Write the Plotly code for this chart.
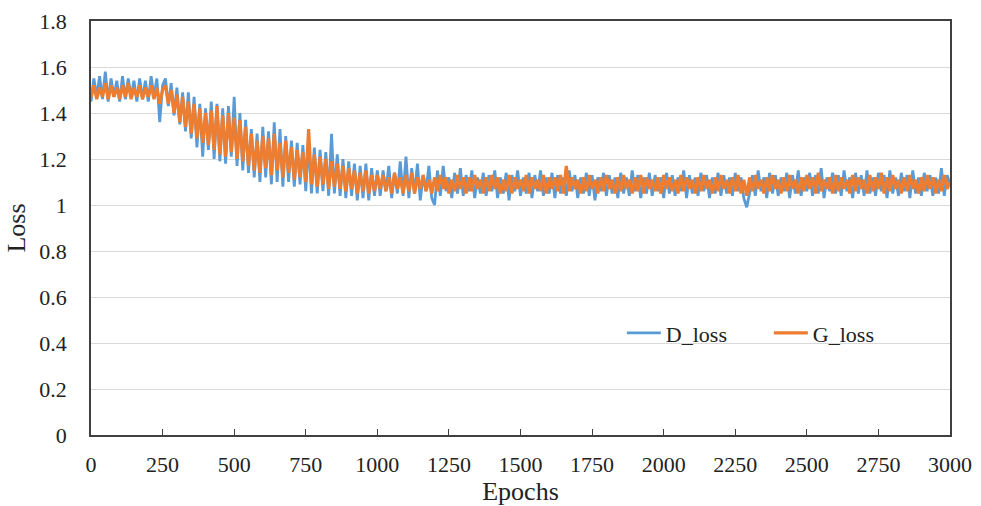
import plotly.graph_objects as go

# Epochs sampled every 10 epochs (0 .. 3000)
epochs = list(range(0, 3001, 10))

d_loss = [
    # 0-250
    1.45,1.55,1.47,1.56,1.46,1.58,1.45,1.55,1.47,1.54,1.45,1.56,1.46,1.55,1.47,1.54,1.45,1.55,1.46,1.54,1.45,1.56,1.47,1.55,1.36,1.52,
    # 260-400
    1.55,1.43,1.53,1.39,1.51,1.35,1.49,1.32,1.49,1.29,1.47,1.25,1.44,1.21,1.42,
    # 410-550
    1.24,1.45,1.20,1.44,1.19,1.42,1.18,1.43,1.21,1.47,1.17,1.40,1.15,1.37,1.14,
    # 560-700
    1.33,1.12,1.31,1.10,1.34,1.12,1.32,1.09,1.36,1.10,1.33,1.08,1.30,1.10,1.28,
    # 710-850
    1.08,1.27,1.09,1.26,1.06,1.27,1.05,1.25,1.05,1.24,1.06,1.23,1.04,1.31,1.05,
    # 860-1000
    1.22,1.04,1.20,1.03,1.19,1.04,1.18,1.02,1.17,1.03,1.18,1.02,1.16,1.04,1.15,
    # 1010-3000
    1.04,1.15,1.06,1.17,1.03,1.14,1.05,1.19,1.04,1.21,
    1.03,1.16,1.05,1.18,1.02,1.13,1.06,1.17,1.03,1.00,
    1.15,1.04,1.17,1.06,1.12,1.03,1.14,1.05,1.16,1.04,
    1.13,1.06,1.15,1.03,1.12,1.05,1.14,1.04,1.13,1.06,
    1.15,1.03,1.12,1.05,1.14,1.02,1.13,1.06,1.15,1.04,
    1.12,1.05,1.14,1.03,1.13,1.06,1.15,1.04,1.12,1.05,
    1.14,1.03,1.13,1.05,1.12,1.04,1.15,1.06,1.13,1.03,
    1.12,1.05,1.14,1.04,1.13,1.02,1.12,1.06,1.14,1.04,
    1.13,1.05,1.12,1.03,1.14,1.05,1.12,1.04,1.15,1.06,
    1.13,1.03,1.12,1.05,1.14,1.04,1.13,1.06,1.12,1.03,
    1.14,1.05,1.13,1.04,1.12,1.06,1.15,1.03,1.13,1.05,
    1.12,1.04,1.14,1.06,1.13,1.03,1.12,1.05,1.14,1.04,
    1.13,1.05,1.12,1.04,1.14,1.06,1.12,1.03,0.99,1.05,
    1.13,1.04,1.15,1.06,1.12,1.03,1.14,1.05,1.13,1.04,
    1.12,1.06,1.14,1.03,1.13,1.05,1.15,1.04,1.12,1.06,
    1.14,1.04,1.13,1.05,1.16,1.03,1.12,1.06,1.14,1.05,
    1.13,1.04,1.15,1.06,1.12,1.03,1.14,1.05,1.13,1.04,
    1.15,1.05,1.12,1.04,1.14,1.06,1.13,1.03,1.15,1.05,
    1.12,1.04,1.14,1.06,1.13,1.03,1.15,1.05,1.12,1.04,
    1.14,1.06,1.13,1.04,1.12,1.05,1.16,1.04,1.13,1.09,
]

g_loss = [
    # 0-250
    1.47,1.52,1.46,1.51,1.47,1.53,1.46,1.52,1.47,1.51,1.46,1.52,1.47,1.53,1.46,1.51,1.47,1.52,1.46,1.51,1.47,1.52,1.46,1.51,1.44,1.50,
    # 260-400
    1.52,1.44,1.50,1.40,1.48,1.36,1.47,1.34,1.45,1.31,1.44,1.29,1.42,1.27,1.40,
    # 410-550
    1.26,1.41,1.24,1.43,1.22,1.39,1.21,1.40,1.23,1.38,1.20,1.37,1.19,1.34,1.17,
    # 560-700
    1.31,1.15,1.28,1.14,1.30,1.16,1.29,1.13,1.31,1.15,1.27,1.12,1.28,1.14,1.25,
    # 710-850
    1.11,1.24,1.12,1.23,1.10,1.33,1.09,1.22,1.08,1.21,1.09,1.20,1.07,1.19,1.08,
    # 860-1000
    1.18,1.07,1.17,1.06,1.16,1.07,1.15,1.05,1.14,1.06,1.15,1.05,1.13,1.06,1.13,
    # 1010-3000
    1.07,1.13,1.06,1.12,1.05,1.14,1.07,1.12,1.05,1.13,
    1.06,1.14,1.05,1.12,1.07,1.13,1.06,1.11,1.05,1.12,
    1.06,1.13,1.07,1.12,1.05,1.11,1.06,1.13,1.07,1.12,
    1.05,1.12,1.06,1.13,1.07,1.11,1.05,1.12,1.06,1.13,
    1.07,1.12,1.05,1.11,1.06,1.13,1.05,1.12,1.07,1.11,
    1.06,1.13,1.05,1.12,1.07,1.11,1.06,1.13,1.05,1.12,
    1.07,1.12,1.06,1.13,1.05,1.17,1.06,1.12,1.07,1.11,
    1.05,1.12,1.06,1.13,1.07,1.11,1.05,1.12,1.06,1.13,
    1.07,1.11,1.05,1.12,1.06,1.13,1.07,1.11,1.05,1.12,
    1.06,1.13,1.05,1.12,1.07,1.11,1.06,1.12,1.05,1.13,
    1.07,1.12,1.06,1.11,1.05,1.13,1.06,1.12,1.07,1.11,
    1.05,1.12,1.06,1.13,1.07,1.11,1.05,1.12,1.06,1.13,
    1.07,1.11,1.05,1.12,1.06,1.13,1.05,1.11,1.04,1.12,
    1.06,1.13,1.07,1.11,1.05,1.12,1.06,1.13,1.07,1.11,
    1.05,1.12,1.06,1.13,1.07,1.11,1.05,1.12,1.06,1.13,
    1.07,1.12,1.05,1.14,1.06,1.11,1.07,1.12,1.05,1.13,
    1.06,1.12,1.07,1.11,1.05,1.13,1.06,1.12,1.07,1.11,
    1.05,1.13,1.06,1.12,1.07,1.14,1.05,1.12,1.06,1.13,
    1.07,1.11,1.05,1.12,1.06,1.13,1.07,1.11,1.05,1.12,
    1.06,1.13,1.07,1.12,1.05,1.11,1.06,1.13,1.07,1.10,
]

font_family = "Liberation Serif"

fig = go.Figure()
fig.add_trace(go.Scatter(x=epochs, y=d_loss, mode="lines", name="D_loss",
                         line=dict(color="#5B9BD5", width=2.8)))
fig.add_trace(go.Scatter(x=epochs, y=g_loss, mode="lines", name="G_loss",
                         line=dict(color="#ED7D31", width=3.2)))

axis_color = "#404040"
fig.update_layout(
    width=981, height=506,
    margin=dict(l=91, r=31, t=21, b=71, autoexpand=False),
    paper_bgcolor="white", plot_bgcolor="white",
    font=dict(family=font_family, size=22, color="#222222"),
    legend=dict(orientation="h", x=0.618, y=0.246, xanchor="left", yanchor="middle",
                bgcolor="rgba(0,0,0,0)", font=dict(size=22), itemwidth=34,
                tracegroupgap=0, entrywidthmode="pixels", entrywidth=98),
    xaxis=dict(range=[0, 3000], dtick=250, tick0=0, showgrid=False,
               showline=True, linecolor=axis_color, linewidth=1.5, mirror=True,
               ticks="inside", ticklen=6, tickcolor=axis_color, automargin=False,
               ticklabelstandoff=9,
               title=dict(text="Epochs", standoff=16), zeroline=False),
    yaxis=dict(range=[0, 1.8], dtick=0.2, tick0=0, showgrid=True, gridcolor="#d9d9d9",
               gridwidth=1, showline=True, linecolor=axis_color, linewidth=1.5,
               mirror=True, ticks="", ticklabelstandoff=18, automargin=False,
               title=dict(text="Loss", standoff=6), zeroline=False),
)

fig.write_html("out.html")
